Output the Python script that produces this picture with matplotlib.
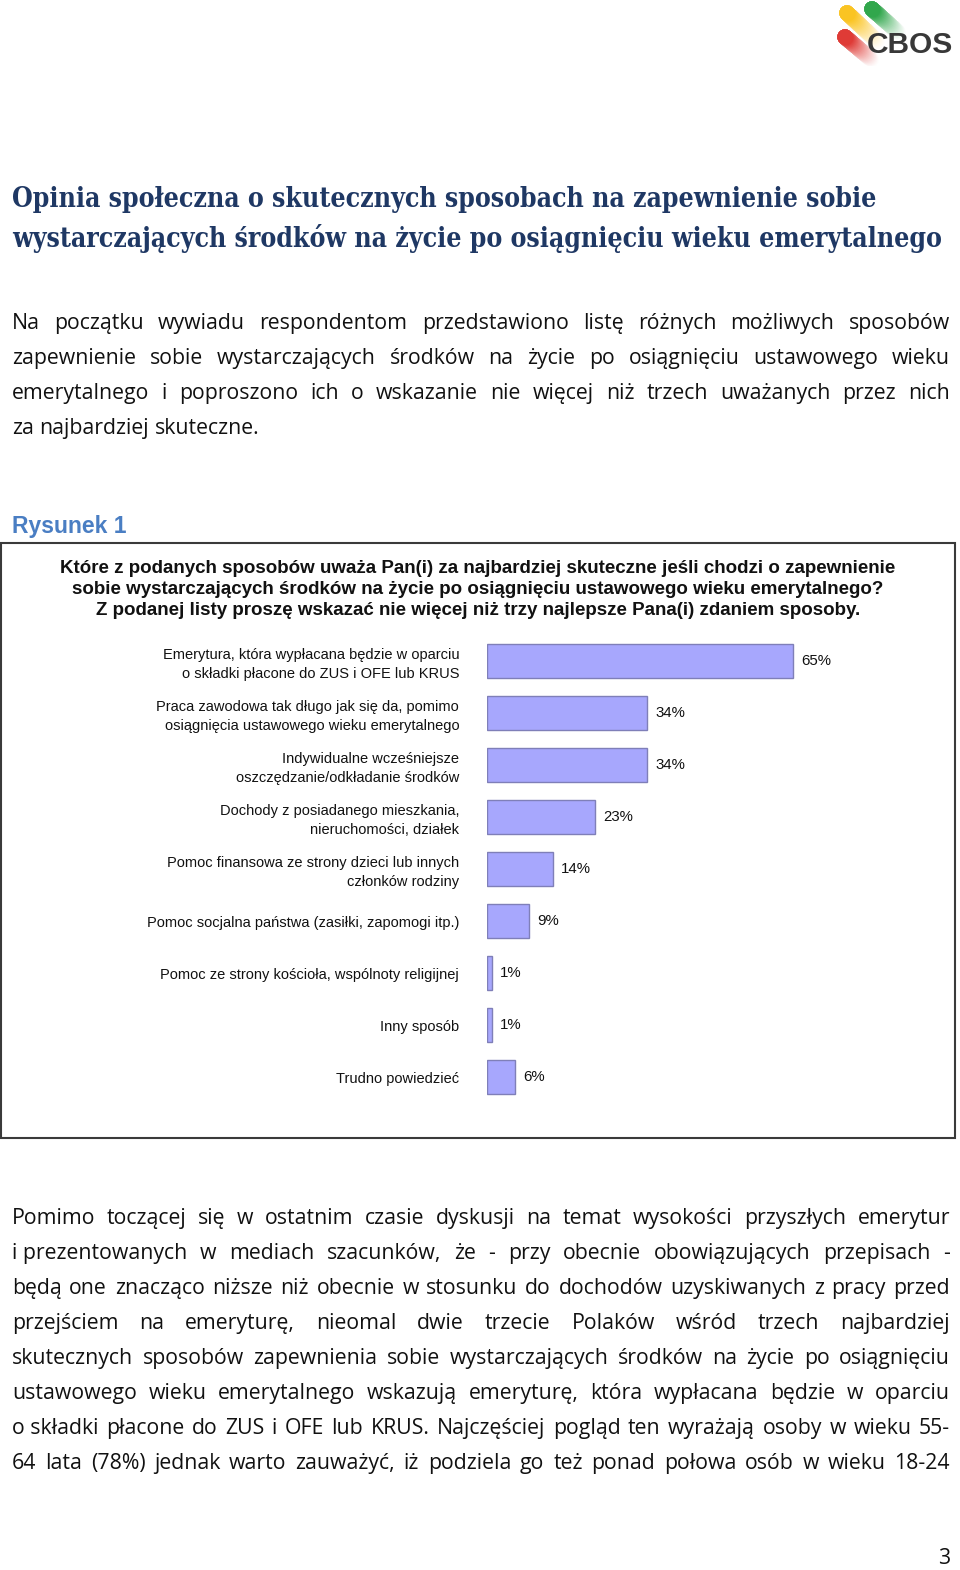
import matplotlib
matplotlib.use('Agg')
import matplotlib.pyplot as plt
from matplotlib import font_manager
from matplotlib.patches import Rectangle
import numpy as np

W, H, DPI = 960, 1570, 100

# ---------------- data ----------------
categories = [
    "Emerytura, która wypłacana będzie w oparciu\no składki płacone do ZUS i OFE lub KRUS",
    "Praca zawodowa tak długo jak się da, pomimo\nosiągnięcia ustawowego wieku emerytalnego",
    "Indywidualne wcześniejsze\noszczędzanie/odkładanie środków",
    "Dochody z posiadanego mieszkania,\nnieruchomości, działek",
    "Pomoc finansowa ze strony dzieci lub innych\nczłonków rodziny",
    "Pomoc socjalna państwa (zasiłki, zapomogi itp.)",
    "Pomoc ze strony kościoła, wspólnoty religijnej",
    "Inny sposób",
    "Trudno powiedzieć",
]
values = [65, 34, 34, 23, 14, 9, 1, 1, 6]
value_labels = [f"{v}%" for v in values]

page_title = ["Opinia społeczna o skutecznych sposobach na zapewnienie sobie",
              "wystarczających środków na życie po osiągnięciu wieku emerytalnego"]
para1 = ["Na początku wywiadu respondentom przedstawiono listę różnych możliwych sposobów",
         "zapewnienie sobie wystarczających środków na życie po osiągnięciu ustawowego wieku",
         "emerytalnego i poproszono ich o wskazanie nie więcej niż trzech uważanych przez nich",
         "za najbardziej skuteczne."]
para2 = ["Pomimo toczącej się w ostatnim czasie dyskusji na temat wysokości przyszłych emerytur",
         "i\u00a0prezentowanych w mediach szacunków, że - przy obecnie obowiązujących przepisach -",
         "będą one znacząco niższe niż obecnie w stosunku do dochodów uzyskiwanych z pracy przed",
         "przejściem na emeryturę, nieomal dwie trzecie Polaków wśród trzech najbardziej",
         "skutecznych sposobów zapewnienia sobie wystarczających środków na życie po osiągnięciu",
         "ustawowego wieku emerytalnego wskazują emeryturę, która wypłacana będzie w oparciu",
         "o\u00a0składki płacone do ZUS i OFE lub KRUS. Najczęściej pogląd ten wyrażają osoby w wieku 55-",
         "64 lata (78%) jednak warto zauważyć, iż podziela go też ponad połowa osób w wieku 18-24"]
figure_label = "Rysunek 1"
question = ["Które z podanych sposobów uważa Pan(i) za najbardziej skuteczne jeśli chodzi o zapewnienie",
            "sobie wystarczających środków na życie po osiągnięciu ustawowego wieku emerytalnego?",
            "Z podanej listy proszę wskazać nie więcej niż trzy najlepsze Pana(i) zdaniem sposoby."]

# ---------------- fonts ----------------
available = {f.name for f in font_manager.fontManager.ttflist}
body_font = 'Open Sans' if 'Open Sans' in available else 'DejaVu Sans'
label_font = 'Liberation Sans'

fig = plt.figure(figsize=(W / DPI, H / DPI), dpi=DPI)
fig.patch.set_facecolor('white')
renderer = fig.canvas.get_renderer()


def fy(y):
    return 1 - y / H


def draw_line(text, x0, x1, yb, justify=True, **kw):
    words = text.split(' ')
    objs = [fig.text(0, fy(yb), w.replace('\u00a0', ' '), va='baseline', ha='left', **kw) for w in words]
    widths = [o.get_window_extent(renderer).width for o in objs]
    if justify and len(words) > 1:
        gap = (x1 - x0 - sum(widths)) / (len(words) - 1)
    else:
        t1 = fig.text(0, 0, 'a a', **kw); t2 = fig.text(0, 0, 'aa', **kw)
        gap = t1.get_window_extent(renderer).width - t2.get_window_extent(renderer).width
        t1.remove(); t2.remove()
    x = x0
    for o, w in zip(objs, widths):
        o.set_x(x / W)
        x += w + gap


# ---------------- logo ----------------
lax = fig.add_axes([830 / W, 1 - 66 / H, 130 / W, 66 / H])
lax.set_xlim(830, 960); lax.set_ylim(66, 0); lax.axis('off')
strokes = [((847, 13), (878, 42), (0.98, 0.76, 0.10)),
           ((872, 9), (899, 33), (0.16, 0.64, 0.27)),
           ((845, 37), (872, 60), (0.87, 0.20, 0.18))]
for (xa, ya), (xb, yb), col in strokes:
    n = 30
    for k in range(n, 0, -1):
        t = k / n
        x = xa + (xb - xa) * t
        y = ya + (yb - ya) * t
        f = (1 - t) ** 1.2
        c = tuple(1 - (1 - ci) * f for ci in col)
        lax.plot([xa, x], [ya, y], color=c, lw=11, solid_capstyle='round')
lax.text(910, 45, 'CBOS', ha='center', va='center', fontsize=21.5, fontweight='bold',
         color='#383838', family='Liberation Sans')

# ---------------- title & paragraphs ----------------
for line, yb in zip(page_title, [207, 247]):
    fig.text(12 / W, fy(yb), line, va='baseline', ha='left', fontsize=19.1,
             fontweight='bold', fontstretch='condensed', color='#1F3864', family='DejaVu Serif')

for i, line in enumerate(para1):
    draw_line(line, 12, 950, 329 + 35 * i, justify=(i < len(para1) - 1),
              fontsize=15.3, family=body_font, color='#111111')
for i, line in enumerate(para2):
    draw_line(line, 12, 950, 1224 + 35 * i, justify=True,
              fontsize=15.3, family=body_font, color='#111111')

fig.text(950 / W, fy(1564), '3', ha='right', va='baseline', fontsize=15.3,
         family=body_font, color='#111111')

fig.text(12 / W, fy(533), figure_label, ha='left', va='baseline', fontsize=16.5,
         fontweight='heavy', color='#4A7EC3', family='Liberation Sans')

# frame
fig.patches.append(Rectangle((1 / W, fy(1138)), 954 / W, 595 / H, transform=fig.transFigure,
                             fill=False, edgecolor='#3a3a3a', linewidth=1.5))

for line, yb in zip(question, [573, 594, 615]):
    fig.text(478 / W, fy(yb), line, ha='center', va='baseline', fontsize=13.5,
             fontweight='bold', color='#111111', family='Liberation Sans')

# ---------------- bar chart ----------------
ax_left, ax_w = 487, 471
ax_top, ax_bot = 635, 1103
ax = fig.add_axes([ax_left / W, fy(ax_bot), ax_w / W, (ax_bot - ax_top) / H])
ypos = np.arange(len(categories))
ax.barh(ypos, values, height=0.65, color='#A7A7FD', edgecolor='#7F7FB8', linewidth=1)
ax.set_xlim(0, 100)
ax.set_ylim(len(categories) - 0.5, -0.5)
ax.set_yticks(ypos)
ax.set_yticklabels(categories, fontsize=10.5, family=label_font, color='#111111',
                   ha='right', multialignment='right', linespacing=1.45)
ax.tick_params(axis='y', length=0, pad=20)
ax.set_xticks([])
for s in ax.spines.values():
    s.set_visible(False)
ax.patch.set_alpha(0)
for v, y, lab in zip(values, ypos, value_labels):
    ax.annotate(lab, (v, y), xytext=(8, 0), textcoords='offset pixels', ha='left',
                va='center', fontsize=10.8, family=label_font, color='#111111')

fig.savefig('out.png', dpi=DPI)
